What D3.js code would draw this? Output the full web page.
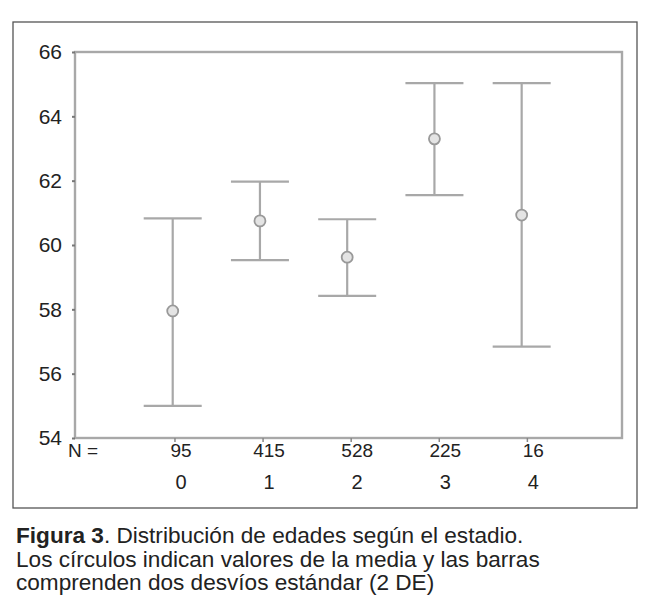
<!DOCTYPE html>
<html><head><meta charset="utf-8">
<script src="https://cdn.jsdelivr.net/npm/d3@7"></script>
<style>html,body{margin:0;padding:0;background:#fff;} svg{display:block;}</style>
</head><body>
<script>
const categories = ["0","1","2","3","4"];
const nValues = ["95","415","528","225","16"];
const means = [57.95, 60.75, 59.62, 63.3, 60.93];
const upper = [60.83, 61.97, 60.8, 65.03, 65.03];
const lower = [55.0, 59.53, 58.42, 61.55, 56.84];
const yTicks = [54,56,58,60,62,64,66];
const captionBold = "Figura 3";
const captionLines = [
  ". Distribución de edades según el estadio.",
  "Los círculos indican valores de la media y las barras",
  "comprenden dos desvíos estándar (2 DE)"
];

const W = 665, H = 614;
const svg = d3.select("body").append("svg").attr("width", W).attr("height", H);
const font = "'Liberation Sans', Arial, sans-serif";

// outer frame
svg.append("rect").attr("x", 13).attr("y", 22).attr("width", 624).attr("height", 486)
  .attr("fill", "none").attr("stroke", "#555").attr("stroke-width", 1.3);

const plot = {l: 75, r: 622, t: 52, b: 438};
const y = d3.scaleLinear().domain([54, 66]).range([plot.b, plot.t]);
const x = d3.scaleLinear().domain([-1.12, 5.15]).range([plot.l, plot.r]);
const xLab = d3.scaleLinear().domain([-1.12, 5.15]).range([82.3, 634.7]);

const grey = "#a8a8a8";

// plot frame
svg.append("rect").attr("x", plot.l).attr("y", plot.t).attr("width", plot.r - plot.l).attr("height", plot.b - plot.t)
  .attr("fill", "none").attr("stroke", grey).attr("stroke-width", 2.4);

// y axis
const yAxis = d3.axisLeft(y).tickValues(yTicks).tickSize(3).tickPadding(10).tickFormat(d3.format("d"));
const gy = svg.append("g").attr("transform", `translate(${plot.l},0)`).call(yAxis);
gy.select(".domain").remove();
gy.selectAll(".tick line").attr("stroke", "#777").attr("stroke-width", 2);
gy.selectAll(".tick text").attr("font-family", font).attr("font-size", 21).attr("fill", "#222");

// bottom small ticks
svg.append("g").selectAll("line").data(categories).join("line")
  .attr("x1", (d,i) => xLab(i) - 6).attr("x2", (d,i) => xLab(i) - 6)
  .attr("y1", plot.b).attr("y2", plot.b + 4)
  .attr("stroke", "#888").attr("stroke-width", 1.5);

// error bars
const cap = 29;
const g = svg.append("g");
categories.forEach((c, i) => {
  const cx = x(i);
  g.append("line").attr("x1", cx).attr("x2", cx).attr("y1", y(upper[i])).attr("y2", y(lower[i]))
    .attr("stroke", grey).attr("stroke-width", 2.2);
  g.append("line").attr("x1", cx - cap).attr("x2", cx + cap).attr("y1", y(upper[i])).attr("y2", y(upper[i]))
    .attr("stroke", grey).attr("stroke-width", 2.2);
  g.append("line").attr("x1", cx - cap).attr("x2", cx + cap).attr("y1", y(lower[i])).attr("y2", y(lower[i]))
    .attr("stroke", grey).attr("stroke-width", 2.2);
  g.append("circle").attr("cx", cx).attr("cy", y(means[i])).attr("r", 5.5)
    .attr("fill", "#e4e4e4").attr("stroke", "#999").attr("stroke-width", 1.8);
});

// N labels
svg.append("text").attr("x", 68).attr("y", 457).attr("font-family", font).attr("font-size", 19)
  .attr("fill", "#222").text("N =");
svg.append("g").selectAll("text").data(nValues).join("text")
  .attr("x", (d,i) => xLab(i)).attr("y", 457).attr("text-anchor", "middle")
  .attr("font-family", font).attr("font-size", 19).attr("fill", "#222").text(d => d);
svg.append("g").selectAll("text").data(categories).join("text")
  .attr("x", (d,i) => xLab(i)).attr("y", 489).attr("text-anchor", "middle")
  .attr("font-family", font).attr("font-size", 20).attr("fill", "#222").text(d => d);

// caption
const capG = svg.append("g").attr("font-family", font).attr("font-size", 22.6).attr("fill", "#222");
const t1 = capG.append("text").attr("x", 16).attr("y", 543);
t1.append("tspan").attr("font-weight", "bold").text(captionBold);
t1.append("tspan").text(captionLines[0]);
capG.append("text").attr("x", 16).attr("y", 567).text(captionLines[1]);
capG.append("text").attr("x", 16).attr("y", 590).text(captionLines[2]);
</script>
</body></html>
